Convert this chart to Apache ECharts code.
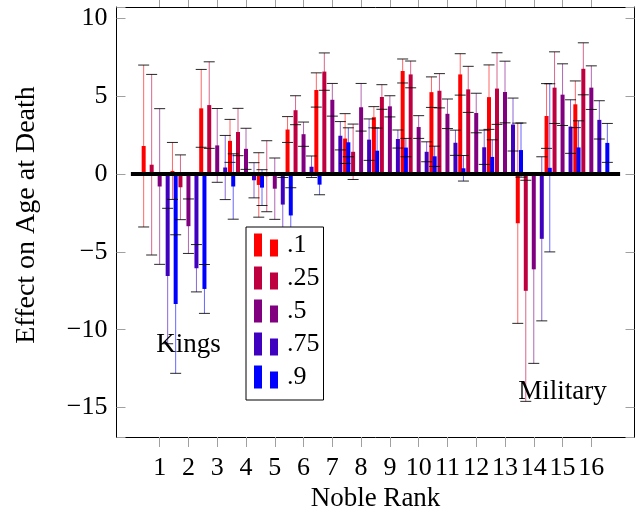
<!DOCTYPE html>
<html><head><meta charset="utf-8">
<script src="https://cdn.jsdelivr.net/npm/echarts@6/dist/echarts.min.js"></script>
<style>html,body{margin:0;padding:0;background:#fff}#c{width:637px;height:514px}</style>
</head><body><div id="c"></div>
<script>
// Categories (blank padding slots at both ends)
const categories = ['', '1','2','3','4','5','6','7','8','9','10','11','12','13','14','15','16', ''];
const seriesNames = ['.1', '.25', '.5', '.75', '.9'];
const seriesColors = ['#ff0000', '#bf0040', '#800080', '#4000bf', '#0000ff'];

// Estimates per noble rank 1..16
const q10 =    [1.8, 0.2, 4.22, 2.13, -0.7, 2.86, 5.4, 2.28, 3.65, 6.62, 5.26, 6.4, 4.94, -3.16, 3.73, 4.48];
const q10err = [5.2, 1.83, 2.5, 1.38, 2.07, 0.83, 1.1, 1.6, 0.68, 0.77, 0.98, 1.33, 2.07, 6.43, 2.08, 1.5];
const q25 =    [0.6, -0.85, 4.43, 2.7, -0.14, 4.1, 6.58, 1.43, 4.95, 6.4, 5.35, 5.44, 5.49, -7.5, 5.55, 6.76];
const q25err = [5.8, 2.08, 2.78, 1.52, 2.28, 0.93, 1.2, 1.78, 0.79, 0.86, 1.1, 1.48, 2.3, 7.1, 2.3, 1.67];
const q50 =    [-0.8, -3.35, 1.84, 1.62, -0.94, 2.56, 4.77, 4.29, 4.35, 3.02, 3.87, 3.92, 5.27, -6.12, 5.1, 5.55];
const q50err = [5.0, 1.75, 2.37, 1.32, 1.97, 0.78, 1.05, 1.53, 0.68, 0.73, 0.95, 1.27, 1.98, 6.04, 1.98, 1.4];
const q75 =    [-6.55, -6.05, 0.42, -0.4, -1.96, 0.47, 2.46, 2.21, 2.25, 1.43, 2.01, 1.72, 3.18, -4.16, 3.05, 3.48];
const q75err = [4.35, 1.52, 2.06, 1.13, 1.74, 0.69, 0.91, 1.33, 0.58, 0.64, 0.81, 1.1, 1.7, 5.27, 1.72, 1.23];
const q90 =    [-8.35, -7.38, -0.8, -0.87, -2.66, -0.68, 2.04, 1.5, 1.7, 1.14, 0.37, 1.1, 1.54, 0.4, 1.71, 2.0];
const q90err = [4.45, 1.57, 2.1, 1.15, 1.78, 0.65, 0.93, 1.45, 0.59, 0.65, 0.82, 1.1, 1.74, 5.4, 1.71, 1.25];

const zeroLine = [0,0,0,0,0,0,0,0,0,0,0,0,0,0,0,0,0,0];
const annotations = [
  { text: 'Kings', x: 2, y: -11 },
  { text: 'Military', x: 15, y: -14 }
];
const yMin = -16.89, yMax = 10.73;

const values = [q10, q25, q50, q75, q90];
const errs = [q10err, q25err, q50err, q75err, q90err];

const FONT = 'Liberation Serif';
const BAR_W = 4, BAR_STEP = 8;

function tickFilter(i) { return i >= 1 && i <= 16; }
function yFmt(v) {
  if (Math.abs(v - Math.round(v / 5) * 5) > 1e-6) return '';
  return v < 0 ? '\u2212' + Math.abs(v) : String(v);
}

const series = [];
values.forEach(function (vals, s) {
  series.push({
    type: 'bar', name: seriesNames[s],
    data: [null].concat(vals).concat([null]),
    barWidth: BAR_W, barGap: '100%',
    itemStyle: { color: seriesColors[s] },
    z: 2, silent: true
  });
});
values.forEach(function (vals, s) {
  const data = vals.map(function (v, i) { return [i + 1, v, errs[s][i]]; });
  series.push({
    type: 'custom', name: seriesNames[s] + ' err',
    data: data, z: 3, silent: true,
    renderItem: function (params, api) {
      const ci = api.value(0), v = api.value(1), e = api.value(2);
      const c = api.coord([ci, v]);
      const top = api.coord([ci, v + e])[1];
      const bot = api.coord([ci, v - e])[1];
      const x = c[0] + (s - 2) * BAR_STEP;
      return { type: 'group', children: [
        { type: 'line', shape: { x1: x, y1: top, x2: x, y2: bot }, style: { stroke: seriesColors[s], lineWidth: 1, opacity: 0.6 } },
        { type: 'line', shape: { x1: x - 5.5, y1: top, x2: x + 5.5, y2: top }, style: { stroke: '#000', lineWidth: 1, opacity: 0.85 } },
        { type: 'line', shape: { x1: x - 5.5, y1: bot, x2: x + 5.5, y2: bot }, style: { stroke: '#000', lineWidth: 1, opacity: 0.85 } }
      ]};
    }
  });
});
series.push({
  type: 'line', name: 'zero', data: zeroLine, symbol: 'none', silent: true,
  lineStyle: { color: '#000', width: 4 }, z: 5
});
series.push({
  type: 'scatter', name: 'notes', silent: true, symbolSize: 1,
  itemStyle: { color: 'rgba(0,0,0,0)', opacity: 1 },
  emphasis: { disabled: true },
  data: annotations.map(function (a) { return { value: [a.x, a.y], name: a.text }; }),
  label: { show: true, position: 'inside', formatter: '{b}', color: '#000', opacity: 1,
           textBorderWidth: 0, fontFamily: FONT, fontSize: 27 },
  z: 6
});

const chart = echarts.init(document.getElementById('c'), null, { renderer: 'canvas' });
chart.setOption({
  animation: false,
  backgroundColor: '#fff',
  grid: { left: 116.5, right: 2.5, top: 7, bottom: 77, containLabel: false, outerBoundsMode: 'none' },
  legend: {
    data: seriesNames, orient: 'vertical', left: 246, top: 227,
    icon: 'path://M0,0h8v23h-8zM16,6h8v17h-8z',
    itemWidth: 24, itemHeight: 23, itemGap: 7,
    padding: [5, 4, 10, 8],
    backgroundColor: '#fff', borderColor: '#000', borderWidth: 1, borderRadius: 0,
    selectedMode: false,
    textStyle: { fontFamily: FONT, fontSize: 26, color: '#000', padding: [0, 0, 0, 4] }
  },
  xAxis: [{
    type: 'category', data: categories, position: 'bottom',
    name: 'Noble Rank', nameLocation: 'middle', nameGap: 42,
    nameTextStyle: { fontFamily: FONT, fontSize: 27, color: '#000' },
    axisLine: { show: true, onZero: false, lineStyle: { color: '#000', width: 1 } },
    axisTick: { show: true, alignWithLabel: true, inside: false, length: 10, interval: tickFilter, lineStyle: { color: '#a0a0a0' } },
    axisLabel: { interval: 0, margin: 18, fontFamily: FONT, fontSize: 26, color: '#000' },
    splitLine: { show: false }
  }, {
    type: 'category', data: categories, position: 'top',
    axisLine: { show: true, onZero: false, lineStyle: { color: '#000', width: 1 } },
    axisTick: { show: true, alignWithLabel: true, inside: false, length: 10, interval: tickFilter, lineStyle: { color: '#a0a0a0' } },
    axisLabel: { show: false }, splitLine: { show: false }
  }],
  yAxis: [{
    type: 'value', min: yMin, max: yMax, position: 'left',
    name: 'Effect on Age at Death', nameLocation: 'middle', nameGap: 76,
    nameTextStyle: { fontFamily: FONT, fontSize: 28, color: '#000', padding: [0, 0, 0, 14] },
    axisLine: { show: true, onZero: false, lineStyle: { color: '#000', width: 1 } },
    axisTick: { show: true, inside: true, length: 9, lineStyle: { color: '#a0a0a0' } },
    axisLabel: { margin: 9, formatter: yFmt, fontFamily: FONT, fontSize: 26, color: '#000' },
    splitLine: { show: false }
  }, {
    type: 'value', min: yMin, max: yMax, position: 'right',
    axisLine: { show: true, onZero: false, lineStyle: { color: '#000', width: 1 } },
    axisTick: { show: true, inside: true, length: 9, lineStyle: { color: '#a0a0a0' } },
    axisLabel: { show: false }, splitLine: { show: false }
  }],
  series: series
});
</script></body></html>
